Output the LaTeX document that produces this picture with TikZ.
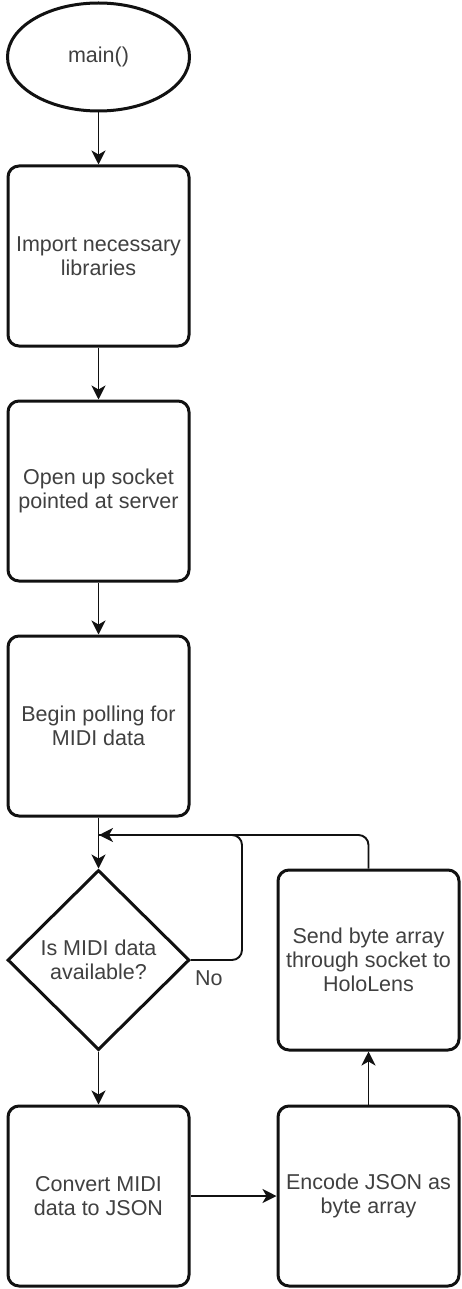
\documentclass[tikz,border=0pt]{standalone}
\usepackage{fontspec}
\setmainfont{Liberation Sans}
\usetikzlibrary{shapes.geometric,arrows.meta,positioning}
\definecolor{ink}{HTML}{111111}
\definecolor{txt}{HTML}{404040}
\tikzset{
  base/.style={draw=ink, line width=3pt, fill=white, text=txt, align=center,
    font=\fontsize{21.5}{24}\selectfont, inner sep=0pt},
  stepbox/.style={base, rectangle, rounded corners=11pt,
    minimum width=181pt, minimum height=180pt},
  startnode/.style={base, ellipse, minimum width=182pt, minimum height=108pt},
  decision/.style={base, diamond, minimum width=182pt, minimum height=180pt},
  flow/.style={draw=ink, line width=1.9pt,
    -{Stealth[length=14pt,width=14pt,inset=4pt]}},
  link/.style={draw=ink, line width=1.9pt, rounded corners=10pt},
  lbl/.style={text=txt, font=\fontsize{21.5}{24}\selectfont, inner sep=0pt}
}
\begin{document}
\begin{tikzpicture}[x=1pt,y=-1pt]
\useasboundingbox (0,0) rectangle (462,1289);

\node[startnode] (start) at (98.5,57) {main()};
\node[stepbox] (import) at (98.5,256) {Import necessary\\libraries};
\node[stepbox] (socket) at (98.5,491) {Open up socket\\pointed at server};
\node[stepbox] (poll) at (98.5,726) {Begin polling for\\MIDI data};
\node[decision] (check) at (98.5,960) {Is MIDI data\\available?};
\node[stepbox] (convert) at (98.5,1196) {Convert MIDI\\data to JSON};
\node[stepbox] (encode) at (368.5,1196) {Encode JSON as\\byte array};
\node[stepbox] (send) at (368.5,960) {Send byte array\\through socket to\\HoloLens};

\coordinate (merge) at (98.5,835);
\coordinate (tip) at (99,835);

\draw[flow] (start) -- (import);
\draw[flow] (import) -- (socket);
\draw[flow] (socket) -- (poll);
\draw[flow] (poll) -- (check);
\draw[flow] (check) -- (convert);
\draw[flow] (convert) -- (encode);
\draw[flow] (encode) -- (send);

% "No" branch loops back above the decision
\draw[link] (check.east) -| (242,835) -- (merge);
\draw[flow] (242,835) -- (tip);
% result sent, poll again
\draw[link] (send.north) |- (242,835);

\node[lbl, anchor=north west] (no) at (195,970) {No};
\end{tikzpicture}
\end{document}
